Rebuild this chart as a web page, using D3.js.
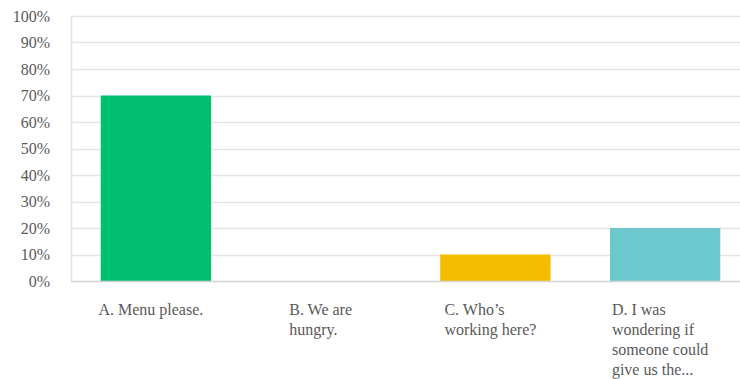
<!DOCTYPE html>
<html>
<head>
<meta charset="utf-8">
<script src="https://cdn.jsdelivr.net/npm/d3@7"></script>
<style>
  html, body { margin: 0; padding: 0; background: #fff; }
  svg { display: block; }
  svg text { font-family: "Liberation Serif", "Times New Roman", Times, serif !important; }
</style>
</head>
<body>
<svg id="chart" width="740" height="379"></svg>
<script>
// Answer options (line breaks mark where each label wraps)
const categories = [
  "A. Menu please.",
  "B. We are\nhungry.",
  "C. Who\u2019s\nworking here?",
  "D. I was\nwondering if\nsomeone could\ngive us the..."
];
// Share of responses per option (fraction)
const values = [0.70, 0.00, 0.10, 0.20];
// One colour per option
const colors = ["#00bf6f", "#2d7fd0", "#f6bc00", "#6cc8cc"];
const yTicks = [0, 0.1, 0.2, 0.3, 0.4, 0.5, 0.6, 0.7, 0.8, 0.9, 1.0];

const svg = d3.select("#chart");
const margin = { left: 71, top: 16, bottom: 281, right: 750 };

const x = d3.scaleBand()
  .domain(categories)
  .range([margin.left, margin.right])
  .paddingInner(0.35)
  .paddingOuter(0.175);

const y = d3.scaleLinear()
  .domain([0, 1])
  .range([margin.bottom, margin.top]);

// Horizontal gridlines
svg.append("g")
  .selectAll("line")
  .data(yTicks.filter(d => d > 0))
  .join("line")
  .attr("x1", margin.left)
  .attr("x2", 740)
  .attr("y1", d => Math.round(y(d)) + 0.5)
  .attr("y2", d => Math.round(y(d)) + 0.5)
  .attr("stroke", "#e6e6e6")
  .attr("stroke-width", 1.5);

// Left axis line
svg.append("line")
  .attr("x1", margin.left + 0.5).attr("x2", margin.left + 0.5)
  .attr("y1", y(1)).attr("y2", y(0))
  .attr("stroke", "#e3e3e3")
  .attr("stroke-width", 1.5);

// Y axis labels
const yAxis = d3.axisLeft(y)
  .tickValues(yTicks)
  .tickFormat(d3.format(".0%"))
  .tickSize(0)
  .tickPadding(21);

const gy = svg.append("g")
  .attr("transform", `translate(${margin.left},0)`)
  .call(yAxis)
  .attr("font-family", null);
gy.select(".domain").remove();
gy.selectAll("text")
  .attr("font-size", 16)
  .attr("fill", "#595959");

// Bars
svg.append("g")
  .selectAll("rect")
  .data(values)
  .join("rect")
  .attr("x", (d, i) => x(categories[i]))
  .attr("width", x.bandwidth())
  .attr("y", d => y(d))
  .attr("height", d => y(0) - y(d))
  .attr("fill", (d, i) => colors[i]);

// Baseline
svg.append("line")
  .attr("x1", margin.left).attr("x2", 740)
  .attr("y1", y(0) + 0.5).attr("y2", y(0) + 0.5)
  .attr("stroke", "#d4d4d4")
  .attr("stroke-width", 1.5);

// Category labels: wrapped lines, left-aligned in a block centred under each bar
const labels = svg.append("g")
  .selectAll("text")
  .data(categories)
  .join("text")
  .attr("font-size", 16)
  .attr("fill", "#595959")
  .attr("y", y(0) + 34);

labels.each(function(d) {
  const t = d3.select(this);
  const lines = d.split("\n");
  lines.forEach((ln, k) => {
    t.append("tspan").attr("dy", k === 0 ? 0 : 20).text(ln);
  });
  let maxW = 0;
  t.selectAll("tspan").each(function() {
    maxW = Math.max(maxW, this.getComputedTextLength());
  });
  const cx = x(d) + x.bandwidth() / 2 - 5;
  t.selectAll("tspan").attr("x", cx - maxW / 2);
});
</script>
</body>
</html>
